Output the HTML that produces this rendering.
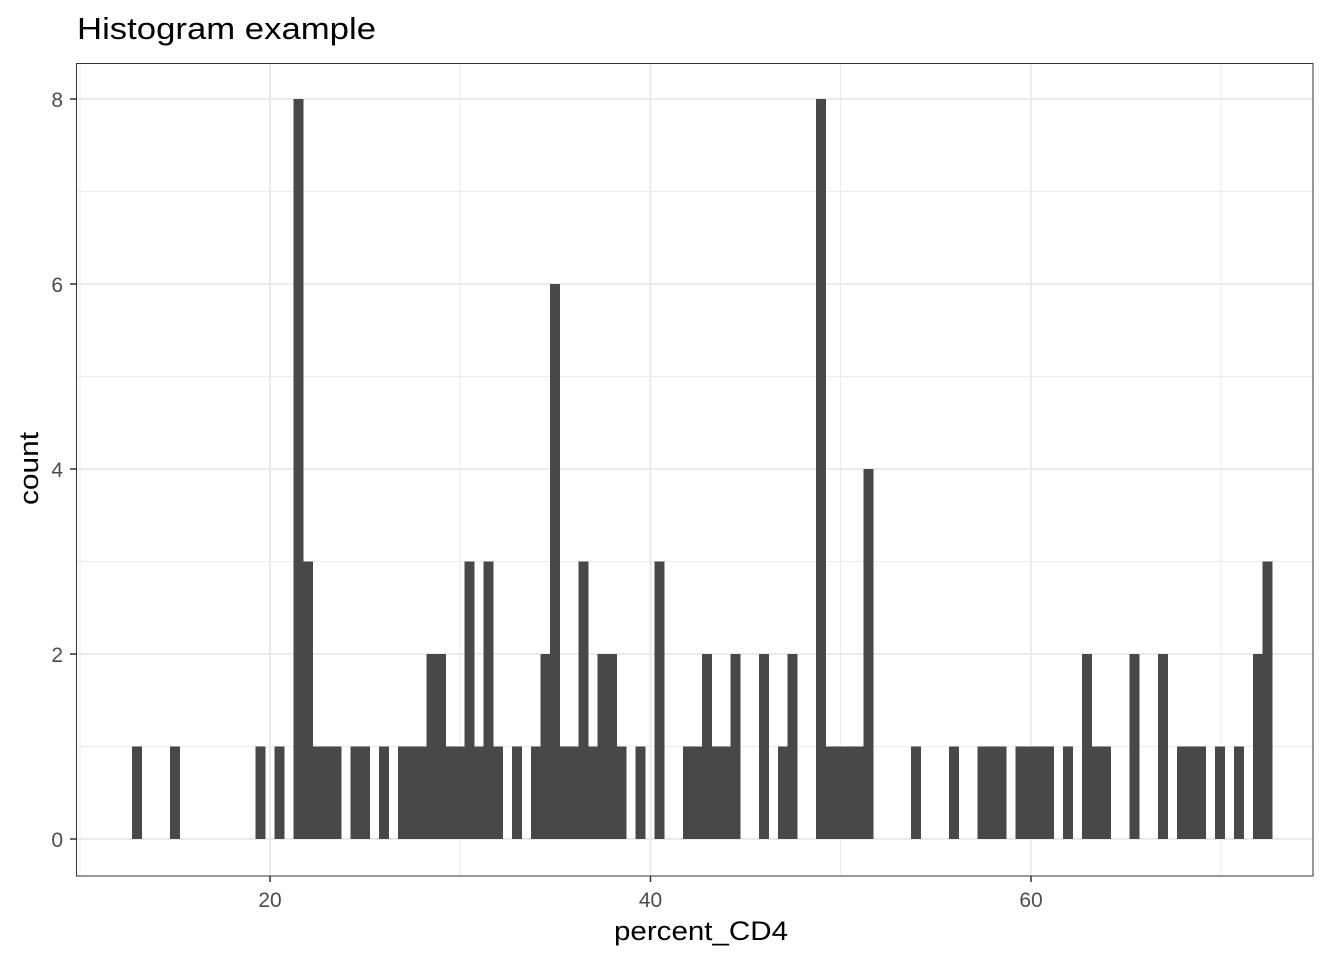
<!DOCTYPE html>
<html><head><meta charset="utf-8"><style>body{margin:0;background:#fff}</style></head>
<body>
<svg width="1344" height="960" xmlns="http://www.w3.org/2000/svg" font-family="Liberation Sans, Arial, sans-serif">
<rect width="1344" height="960" fill="#fff"/>
<g stroke="#ebebeb" stroke-width="1">
<line x1="76" x2="1313" y1="746.5" y2="746.5"/><line x1="76" x2="1313" y1="561.5" y2="561.5"/>
<line x1="76" x2="1313" y1="376.5" y2="376.5"/><line x1="76" x2="1313" y1="191.5" y2="191.5"/>
<line y1="63" y2="876" x1="80" x2="80"/><line y1="63" y2="876" x1="460" x2="460"/>
<line y1="63" y2="876" x1="840.5" x2="840.5"/><line y1="63" y2="876" x1="1221" x2="1221"/>
</g>
<g stroke="#ebebeb" stroke-width="2">
<line x1="76" x2="1313" y1="839" y2="839"/><line x1="76" x2="1313" y1="654" y2="654"/>
<line x1="76" x2="1313" y1="469" y2="469"/><line x1="76" x2="1313" y1="284" y2="284"/>
<line x1="76" x2="1313" y1="99" y2="99"/>
<line y1="63" y2="876" x1="270" x2="270"/><line y1="63" y2="876" x1="650.5" x2="650.5"/>
<line y1="63" y2="876" x1="1031" x2="1031"/>
</g>
<g id="bars" fill="#484848" shape-rendering="crispEdges"></g>
<rect x="76.5" y="63.5" width="1236.5" height="812.5" fill="none" stroke="#333" stroke-width="1"/>
<g stroke="#333" stroke-width="1.5">
<line x1="70" x2="76" y1="839" y2="839"/><line x1="70" x2="76" y1="654" y2="654"/>
<line x1="70" x2="76" y1="469" y2="469"/><line x1="70" x2="76" y1="284" y2="284"/>
<line x1="70" x2="76" y1="99" y2="99"/>
<line y1="876" y2="882" x1="270" x2="270"/><line y1="876" y2="882" x1="650.5" x2="650.5"/>
<line y1="876" y2="882" x1="1031" x2="1031"/>
</g>
<g fill="#4d4d4d" font-size="21" text-anchor="end">
<text x="63" y="847">0</text><text x="63" y="662">2</text><text x="63" y="477">4</text>
<text x="63" y="292">6</text><text x="63" y="107">8</text>
</g>
<g fill="#4d4d4d" font-size="21" text-anchor="middle">
<text x="270" y="907">20</text><text x="650.5" y="907">40</text><text x="1031" y="907">60</text>
</g>
<text x="614" y="940" font-size="27" textLength="174" lengthAdjust="spacingAndGlyphs" fill="#000">percent_CD4</text>
<text transform="translate(38,505) rotate(-90)" font-size="27" textLength="73" lengthAdjust="spacingAndGlyphs" fill="#000">count</text>
<text x="77" y="39" font-size="31" textLength="299" lengthAdjust="spacingAndGlyphs" fill="#000">Histogram example</text>
</svg>
<script>
var c={0:1,4:1,13:1,15:1,17:8,18:3,19:1,20:1,21:1,23:1,24:1,26:1,40:1,53:1,55:3,66:2,68:1,69:2,
82:1,86:1,89:1,90:1,91:1,93:1,94:1,95:1,96:1,98:1,100:2,101:1,102:1,105:2,108:2,110:1,111:1,112:1,114:1,116:1,118:2,119:3};
for(var i=28;i<=38;i++)c[i]=1;c[31]=2;c[32]=2;c[35]=3;c[37]=3;
for(i=42;i<=51;i++)c[i]=1;c[43]=2;c[44]=6;c[47]=3;c[49]=2;c[50]=2;
for(i=58;i<=63;i++)c[i]=1;c[60]=2;c[63]=2;
for(i=72;i<=77;i++)c[i]=1;c[72]=8;c[77]=4;
var g=document.getElementById('bars'),s='';
for(var k in c){var x=132.2+9.5*k,h=c[k]*92.5;
s+='<rect x="'+x+'" y="'+(839-h)+'" width="9.9" height="'+h+'"/>';}
g.innerHTML=s;
</script>
</body></html>
